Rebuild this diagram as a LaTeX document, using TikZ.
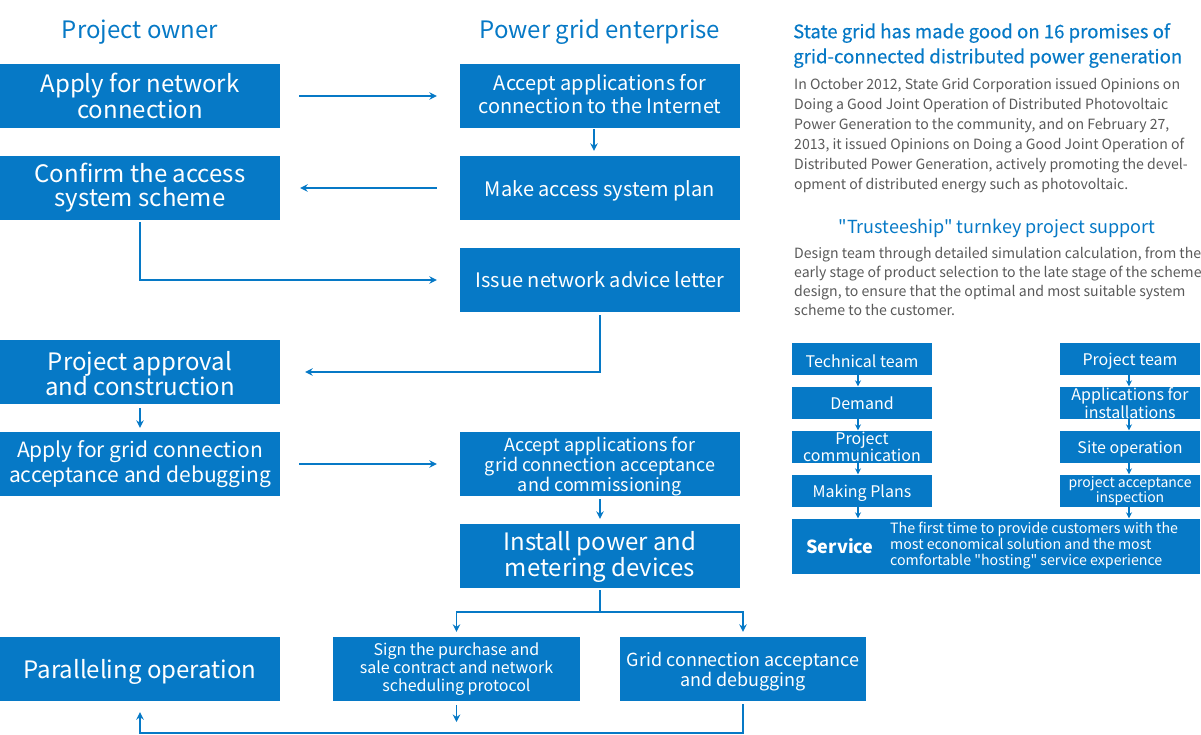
\documentclass[tikz,border=0pt]{standalone}
\usepackage{fontspec}
\setmainfont{Noto Sans CJK SC}[Ligatures=TeXOff]
\newfontfamily\medfont{Noto Sans CJK SC}[Ligatures=TeXOff,FakeBold=0.4]
\usetikzlibrary{arrows.meta}
\definecolor{bblue}{HTML}{0679C6}
\definecolor{tgray}{HTML}{595959}
\newcommand{\fsz}[2]{\fontsize{#1}{#2}\selectfont}
\begin{document}
\begin{tikzpicture}[x=1pt,y=-1pt,
  box/.style={fill=bblue,text=white,inner sep=0pt,align=center},
  bigbox/.style={box,minimum width=280pt,minimum height=64pt},
  smallbox/.style={box,minimum width=140pt,minimum height=32pt,font=\fsz{16}{15}},
  wtxt/.style={text=white,inner sep=0pt,align=center},
  arr/.style={draw=bblue,line width=1.5pt,-{Stealth[length=7.5pt,width=7.5pt,inset=2.5pt]}},
  sarr/.style={draw=bblue,line width=1.5pt,-{Stealth[length=6pt,width=6pt,inset=2pt]}},
  ln/.style={draw=bblue,line width=1.5pt},
  head/.style={text=bblue,inner sep=0pt,font=\fsz{24}{24}},
  body/.style={text=tgray,inner sep=0pt,align=left,anchor=north west,font=\fsz{14.1}{20}}]
\useasboundingbox (0,0) rectangle (1201,734);

% headers
\node[head] (h1) at (140,32) {Project owner};
\node[head] (h2) at (600,32) {Power grid enterprise};

% left column
\node[bigbox,font=\fsz{24}{24}] (o1) at (140,96) {Apply for network\\connection};
\node[bigbox,font=\fsz{24}{24}] (o2) at (140,188) {Confirm the access\\system scheme};
\node[bigbox] (o3) at (140,372) {};
\node[wtxt,font=\fsz{24}{25}] (o3txt) at (140,374) {Project approval\\and construction};
\node[bigbox,font=\fsz{21}{25}] (o4) at (140,464) {Apply for grid connection\\acceptance and debugging};
\node[bigbox] (par) at (140,669) {};
\node[wtxt,font=\fsz{24}{24}] (partxt) at (140,671.5) {Paralleling operation};

% middle column
\node[bigbox] (m1) at (600,96) {};
\node[wtxt,font=\fsz{20}{23}] (m1txt) at (600,94) {Accept applications for\\connection to the Internet};
\node[bigbox] (m2) at (600,188) {};
\node[wtxt,font=\fsz{20}{23}] (m2txt) at (600,190.5) {Make access system plan};
\node[bigbox,font=\fsz{20}{23}] (m3) at (600,280) {Issue network advice letter};
\node[bigbox] (m4) at (600,464) {};
\node[wtxt,font=\fsz{18}{20}] (m4txt) at (600,466) {Accept applications for\\grid connection acceptance\\and commissioning};
\node[bigbox] (m5) at (600,556) {};
\node[wtxt,font=\fsz{24}{24}] (m5txt) at (600,557) {Install power and\\metering devices};
\node[box,minimum width=247pt,minimum height=64pt,font=\fsz{16}{18}] (sign) at (456.5,669) {Sign the purchase and\\sale contract and network\\scheduling protocol};
\node[box,minimum width=246pt,minimum height=64pt] (grid) at (743,669) {};
\node[wtxt,font=\fsz{18}{20}] (gridtxt) at (743,672) {Grid connection acceptance\\and debugging};

% connectors
\draw[arr,shorten <=19pt,shorten >=23pt] (o1.east) -- (m1.west);
\draw[arr,shorten <=23pt,shorten >=20pt] (m2.west) -- (o2.east);
\draw[arr,shorten <=2pt,shorten >=23pt] (o2.south) |- (m3.west);
\draw[arr,shorten <=3pt,shorten >=25pt] (m3.south) |- (o3.east);
\draw[arr,shorten <=1pt,shorten >=5pt] ([xshift=-6pt]m1.south) -- ([xshift=-6pt]m2.north);
\draw[arr,shorten <=4pt,shorten >=4pt] (o3.south) -- (o4.north);
\draw[arr,shorten <=19pt,shorten >=23pt] (o4.east) -- (m4.west);
\draw[arr,shorten <=3pt,shorten >=5pt] (m4.south) -- (m5.north);
\coordinate (split) at (600,612);
\draw[ln,shorten <=2pt] (m5.south) -- (split);
\draw[arr,shorten >=5pt] (split) -| (sign.north);
\draw[arr,shorten >=5pt] (split) -| (grid.north);
\coordinate (signend) at (456.5,722);
\draw[arr,shorten <=4pt] (sign.south) -- (signend);
\coordinate (bot) at (743,733);
\draw[arr,shorten <=3pt,shorten >=11pt] (grid.south) -- (bot) -| (par.south);

% right panel text
\node[text=bblue,inner sep=0pt,align=left,anchor=north west,font=\medfont\fsz{18.6}{25}] (title) at (793,23)
  {State grid has made good on 16 promises of\\grid-connected distributed power generation};
\node[body] (txt1) at (794,78)
  {In October 2012, State Grid Corporation issued Opinions on\\
   Doing a Good Joint Operation of Distributed Photovoltaic\\
   Power Generation to the community, and on February 27,\\
   2013, it issued Opinions on Doing a Good Joint Operation of\\
   Distributed Power Generation, actively promoting the devel-\\
   opment of distributed energy such as photovoltaic.};
\node[text=bblue,inner sep=0pt,font=\fsz{18}{20}] (trust) at (997,229) {"Trusteeship" turnkey project support};
\node[body,font=\fsz{14.1}{19}] (txt2) at (794,247)
  {Design team through detailed simulation calculation, from the\\
   early stage of product selection to the late stage of the scheme\\
   design, to ensure that the optimal and most suitable system\\
   scheme to the customer.};

% right flow
\node[smallbox] (t1) at (862,359) {};
\node[wtxt,font=\fsz{16}{15}] (t1txt) at (862,361) {Technical team};
\node[smallbox] (t2) at (862,403) {Demand};
\node[smallbox] (t3) at (862,447) {Project\\communication};
\node[smallbox] (t4) at (862,491) {};
\node[wtxt,font=\fsz{16}{15}] (t4txt) at (862,493) {Making Plans};
\node[smallbox] (p1) at (1130,359) {};
\node[wtxt,font=\fsz{16}{15}] (p1txt) at (1130,361.5) {Project team};
\node[smallbox,font=\fsz{16}{14}] (p2) at (1130,403) {Applications for\\installations};
\node[smallbox] (p3) at (1130,447) {};
\node[wtxt,font=\fsz{16}{15}] (p3txt) at (1130,449) {Site operation};
\node[smallbox,font=\fsz{14}{14}] (p4) at (1130,491) {project acceptance\\inspection};
\node[box,minimum width=408pt,minimum height=55pt] (serv) at (996,546.5) {};
\node[wtxt,font=\bfseries\fsz{18}{18}] (servlbl) at (840,546) {Service};
\node[text=white,inner sep=0pt,align=left,anchor=west,font=\fsz{14.2}{16}] (servtxt) at (890,546)
  {The first time to provide customers with the\\most economical solution and the most\\comfortable "hosting" service experience};

\foreach \a/\b in {t1/t2,t2/t3,t3/t4}
  \draw[sarr,shorten >=0.5pt] ([xshift=-4pt]\a.south) -- ([xshift=-4pt]\b.north);
\draw[sarr,shorten >=0.5pt] ([xshift=-4pt]t4.south) -- ([xshift=-4pt]t4.south |- serv.north);
\foreach \a/\b in {p1/p2,p2/p3,p3/p4}
  \draw[sarr,shorten >=0.5pt] ([xshift=-1pt]\a.south) -- ([xshift=-1pt]\b.north);
\draw[sarr,shorten >=0.5pt] ([xshift=-1pt]p4.south) -- ([xshift=-1pt]p4.south |- serv.north);
\end{tikzpicture}
\end{document}
